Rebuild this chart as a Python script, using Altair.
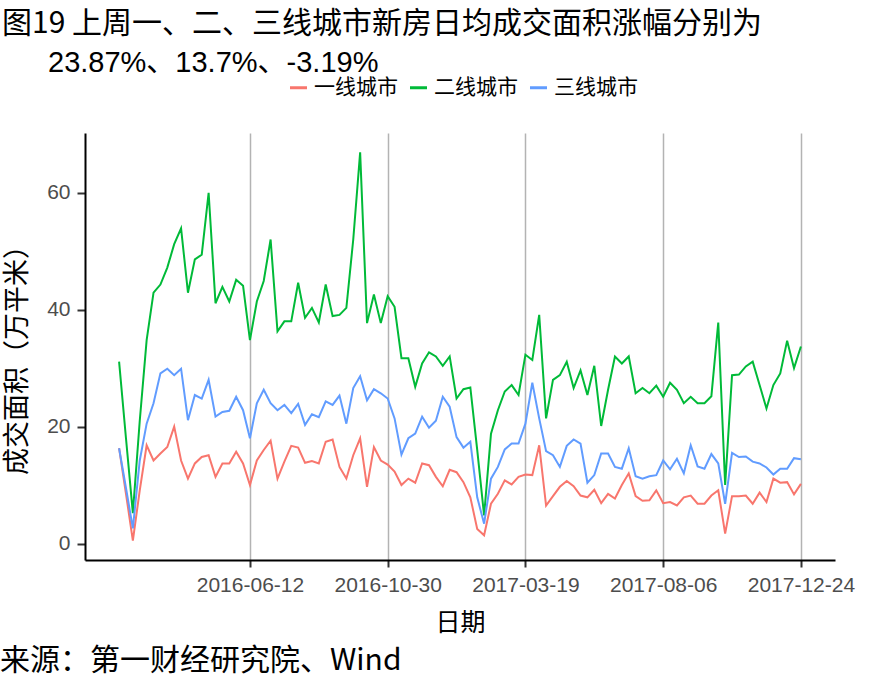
import altair as alt
import pandas as pd

# ---- data ----
start_date = "2016-01-31"
n_weeks = 100
series_names = ["一线城市", "二线城市", "三线城市"]
series_colors = ["#F8766D", "#00BA38", "#619CFF"]

tier1 = [16.3, 8.5, 0.5, 9.1, 16.8, 14.2, 15.4, 16.5, 20.0, 14.2,
         11.1, 13.7, 14.8, 15.1, 11.4, 13.7, 13.7, 15.7, 13.7, 10.0,
         14.2, 16.0, 17.6, 11.1, 14.0, 16.7, 16.4, 13.8, 14.1, 13.7,
         17.4, 17.8, 13.1, 11.1, 15.1, 18.0, 9.7, 16.5, 14.2, 13.5,
         12.3, 10.0, 11.1, 10.4, 13.7, 13.4, 11.4, 9.8, 12.6, 12.2,
         10.5, 7.9, 2.5, 1.4, 6.8, 8.5, 10.8, 10.1, 11.4, 11.8,
         11.7, 16.8, 6.5, 8.1, 9.7, 10.7, 9.8, 8.2, 7.9, 9.2,
         6.9, 8.5, 7.7, 10.0, 12.0, 8.1, 7.3, 7.4, 9.1, 6.9,
         7.1, 6.5, 7.9, 8.2, 6.8, 6.8, 8.2, 9.1, 1.7, 8.1,
         8.1, 8.2, 6.8, 8.7, 7.1, 11.1, 10.4, 10.5, 8.4, 10.2]

tier2 = [31.1, 18.0, 5.2, 21.0, 34.8, 42.9, 44.3, 47.2, 51.2, 53.9,
         42.9, 48.6, 49.4, 60.0, 41.1, 43.9, 41.4, 45.1, 44.1, 34.8,
         41.4, 44.9, 52.0, 36.3, 38.0, 38.0, 44.6, 38.6, 40.3, 37.8,
         44.3, 38.9, 39.1, 40.3, 52.0, 66.9, 37.7, 42.6, 37.7, 42.3,
         40.5, 31.7, 31.7, 26.8, 30.8, 32.7, 32.0, 30.4, 32.0, 24.8,
         26.4, 26.7, 16.0, 4.8, 18.8, 22.8, 26.0, 27.1, 25.4, 32.3,
         31.4, 39.1, 21.4, 28.0, 28.8, 31.1, 26.6, 29.6, 25.4, 30.4,
         20.1, 26.3, 32.0, 30.8, 32.0, 25.7, 26.6, 25.7, 27.0, 25.1,
         27.5, 26.3, 24.0, 25.1, 24.0, 24.0, 25.2, 37.8, 10.0, 28.8,
         28.9, 30.3, 31.1, 27.1, 23.1, 27.1, 29.1, 34.7, 30.0, 33.7]

tier3 = [16.3, 9.5, 2.6, 14.2, 20.5, 24.0, 29.1, 29.9, 28.8, 29.9,
         21.1, 25.4, 24.8, 28.0, 21.7, 22.5, 22.7, 25.1, 22.8, 18.0,
         24.0, 26.3, 24.0, 22.8, 23.7, 22.3, 23.9, 20.3, 22.1, 21.6,
         24.3, 23.7, 25.3, 20.5, 26.6, 28.6, 24.5, 26.4, 25.7, 24.8,
         21.4, 15.2, 18.0, 18.8, 21.7, 19.8, 21.0, 25.1, 23.4, 18.2,
         16.4, 17.4, 7.9, 3.4, 11.1, 13.1, 16.1, 17.1, 17.1, 20.5,
         27.5, 21.4, 15.8, 15.1, 13.1, 16.7, 17.8, 17.1, 10.4, 11.7,
         15.4, 15.4, 13.1, 12.8, 16.3, 11.5, 11.1, 11.5, 11.7, 14.2,
         12.7, 14.5, 12.0, 16.8, 13.2, 12.8, 15.3, 13.7, 6.8, 15.5,
         14.8, 14.9, 14.0, 13.7, 13.0, 11.8, 12.8, 12.8, 14.6, 14.4]

tick_dates = ["2016-06-12", "2016-10-30", "2017-03-19", "2017-08-06", "2017-12-24"]
y_ticks = [0, 20, 40, 60]

title_line1 = "图19 上周一、二、三线城市新房日均成交面积涨幅分别为"
title_line2 = "23.87%、13.7%、-3.19%"
caption = "来源：第一财经研究院、Wind"
x_title = "日期"
y_title = "成交面积（万平米）"

# ---- build table ----
dates = pd.date_range(start_date, periods=n_weeks, freq="7D")
ms = [int(d.value // 10**6) for d in dates]
rows = []
for name, vals in zip(series_names, [tier1, tier2, tier3]):
    for t, v in zip(ms, vals):
        rows.append({"t": t, "value": v, "series": name})
df = pd.DataFrame(rows)

span = ms[-1] - ms[0]
x_domain = [ms[0] - 0.05 * span, ms[-1] + 0.05 * span]
all_vals = tier1 + tier2 + tier3
vr = max(all_vals) - min(all_vals)
y_domain = [min(all_vals) - 0.05 * vr, max(all_vals) + 0.05 * vr]
tick_ms = [int(pd.Timestamp(d).value // 10**6) for d in tick_dates]

LAT = "'Liberation Sans', 'Noto Sans CJK SC', sans-serif"
CJK = "'Noto Sans CJK SC', 'Liberation Sans', sans-serif"

lines = alt.Chart(df).mark_line(strokeWidth=2).encode(
    x=alt.X("t:Q",
            scale=alt.Scale(domain=x_domain, nice=False, zero=False),
            axis=alt.Axis(values=tick_ms,
                          labelExpr="utcFormat(datum.value, '%Y-%m-%d')",
                          title=x_title, grid=True, gridColor="#b3b3b3", gridWidth=1.5,
                          domainColor="black", domainWidth=2,
                          tickColor="#333333", tickWidth=2, tickSize=7,
                          labelFont=LAT, labelFontSize=21, labelColor="#4d4d4d",
                          labelPadding=7, labelFlush=False, labelOverlap=False,
                          titleFont=CJK, titleFontSize=25, titleFontWeight="normal",
                          titleColor="black", titleBaseline="middle", titleY=62)),
    y=alt.Y("value:Q",
            scale=alt.Scale(domain=y_domain, nice=False, zero=False),
            axis=alt.Axis(values=y_ticks, grid=False, title=y_title,
                          domainColor="black", domainWidth=2,
                          tickColor="#333333", tickWidth=2, tickSize=8,
                          labelFont=LAT, labelFontSize=21, labelColor="#4d4d4d",
                          labelPadding=7,
                          titleFont=CJK, titleFontSize=27, titleFontWeight="normal",
                          titleColor="black", titleAngle=270, titleBaseline="middle",
                          titleX=-68, titleY=220)),
    color=alt.Color("series:N",
                    scale=alt.Scale(domain=series_names, range=series_colors),
                    legend=alt.Legend(orient="none", legendX=203, legendY=-56,
                                      direction="horizontal", title=None,
                                      symbolType="stroke", symbolSize=289,
                                      symbolStrokeWidth=3,
                                      labelFont=CJK, labelFontSize=21,
                                      labelColor="black", labelOffset=5,
                                      columnPadding=6)),
    order=alt.Order("t:Q"),
)

t1 = alt.Chart(pd.DataFrame({"s": [title_line1]})).mark_text(
    align="left", baseline="alphabetic", font=CJK, fontSize=30, color="black"
).encode(text="s:N", x=alt.value(-83), y=alt.value(-100))

t2 = alt.Chart(pd.DataFrame({"s": [title_line2]})).mark_text(
    align="left", baseline="alphabetic", font=LAT, fontSize=29, color="black"
).encode(text="s:N", x=alt.value(-37), y=alt.value(-61))

cap = alt.Chart(pd.DataFrame({"s": [caption]})).mark_text(
    align="left", baseline="alphabetic", font=CJK, fontSize=30, color="black"
).encode(text="s:N", x=alt.value(-85), y=alt.value(537))

chart = alt.layer(lines, t1, t2, cap).properties(
    width=750, height=427,
    padding={"left": 85, "top": 133, "right": 50, "bottom": 128},
    autosize=alt.AutoSizeParams(type="none"),
).configure_view(strokeWidth=0)

chart.save("out.html", embed_options={"renderer": "svg", "actions": False})
